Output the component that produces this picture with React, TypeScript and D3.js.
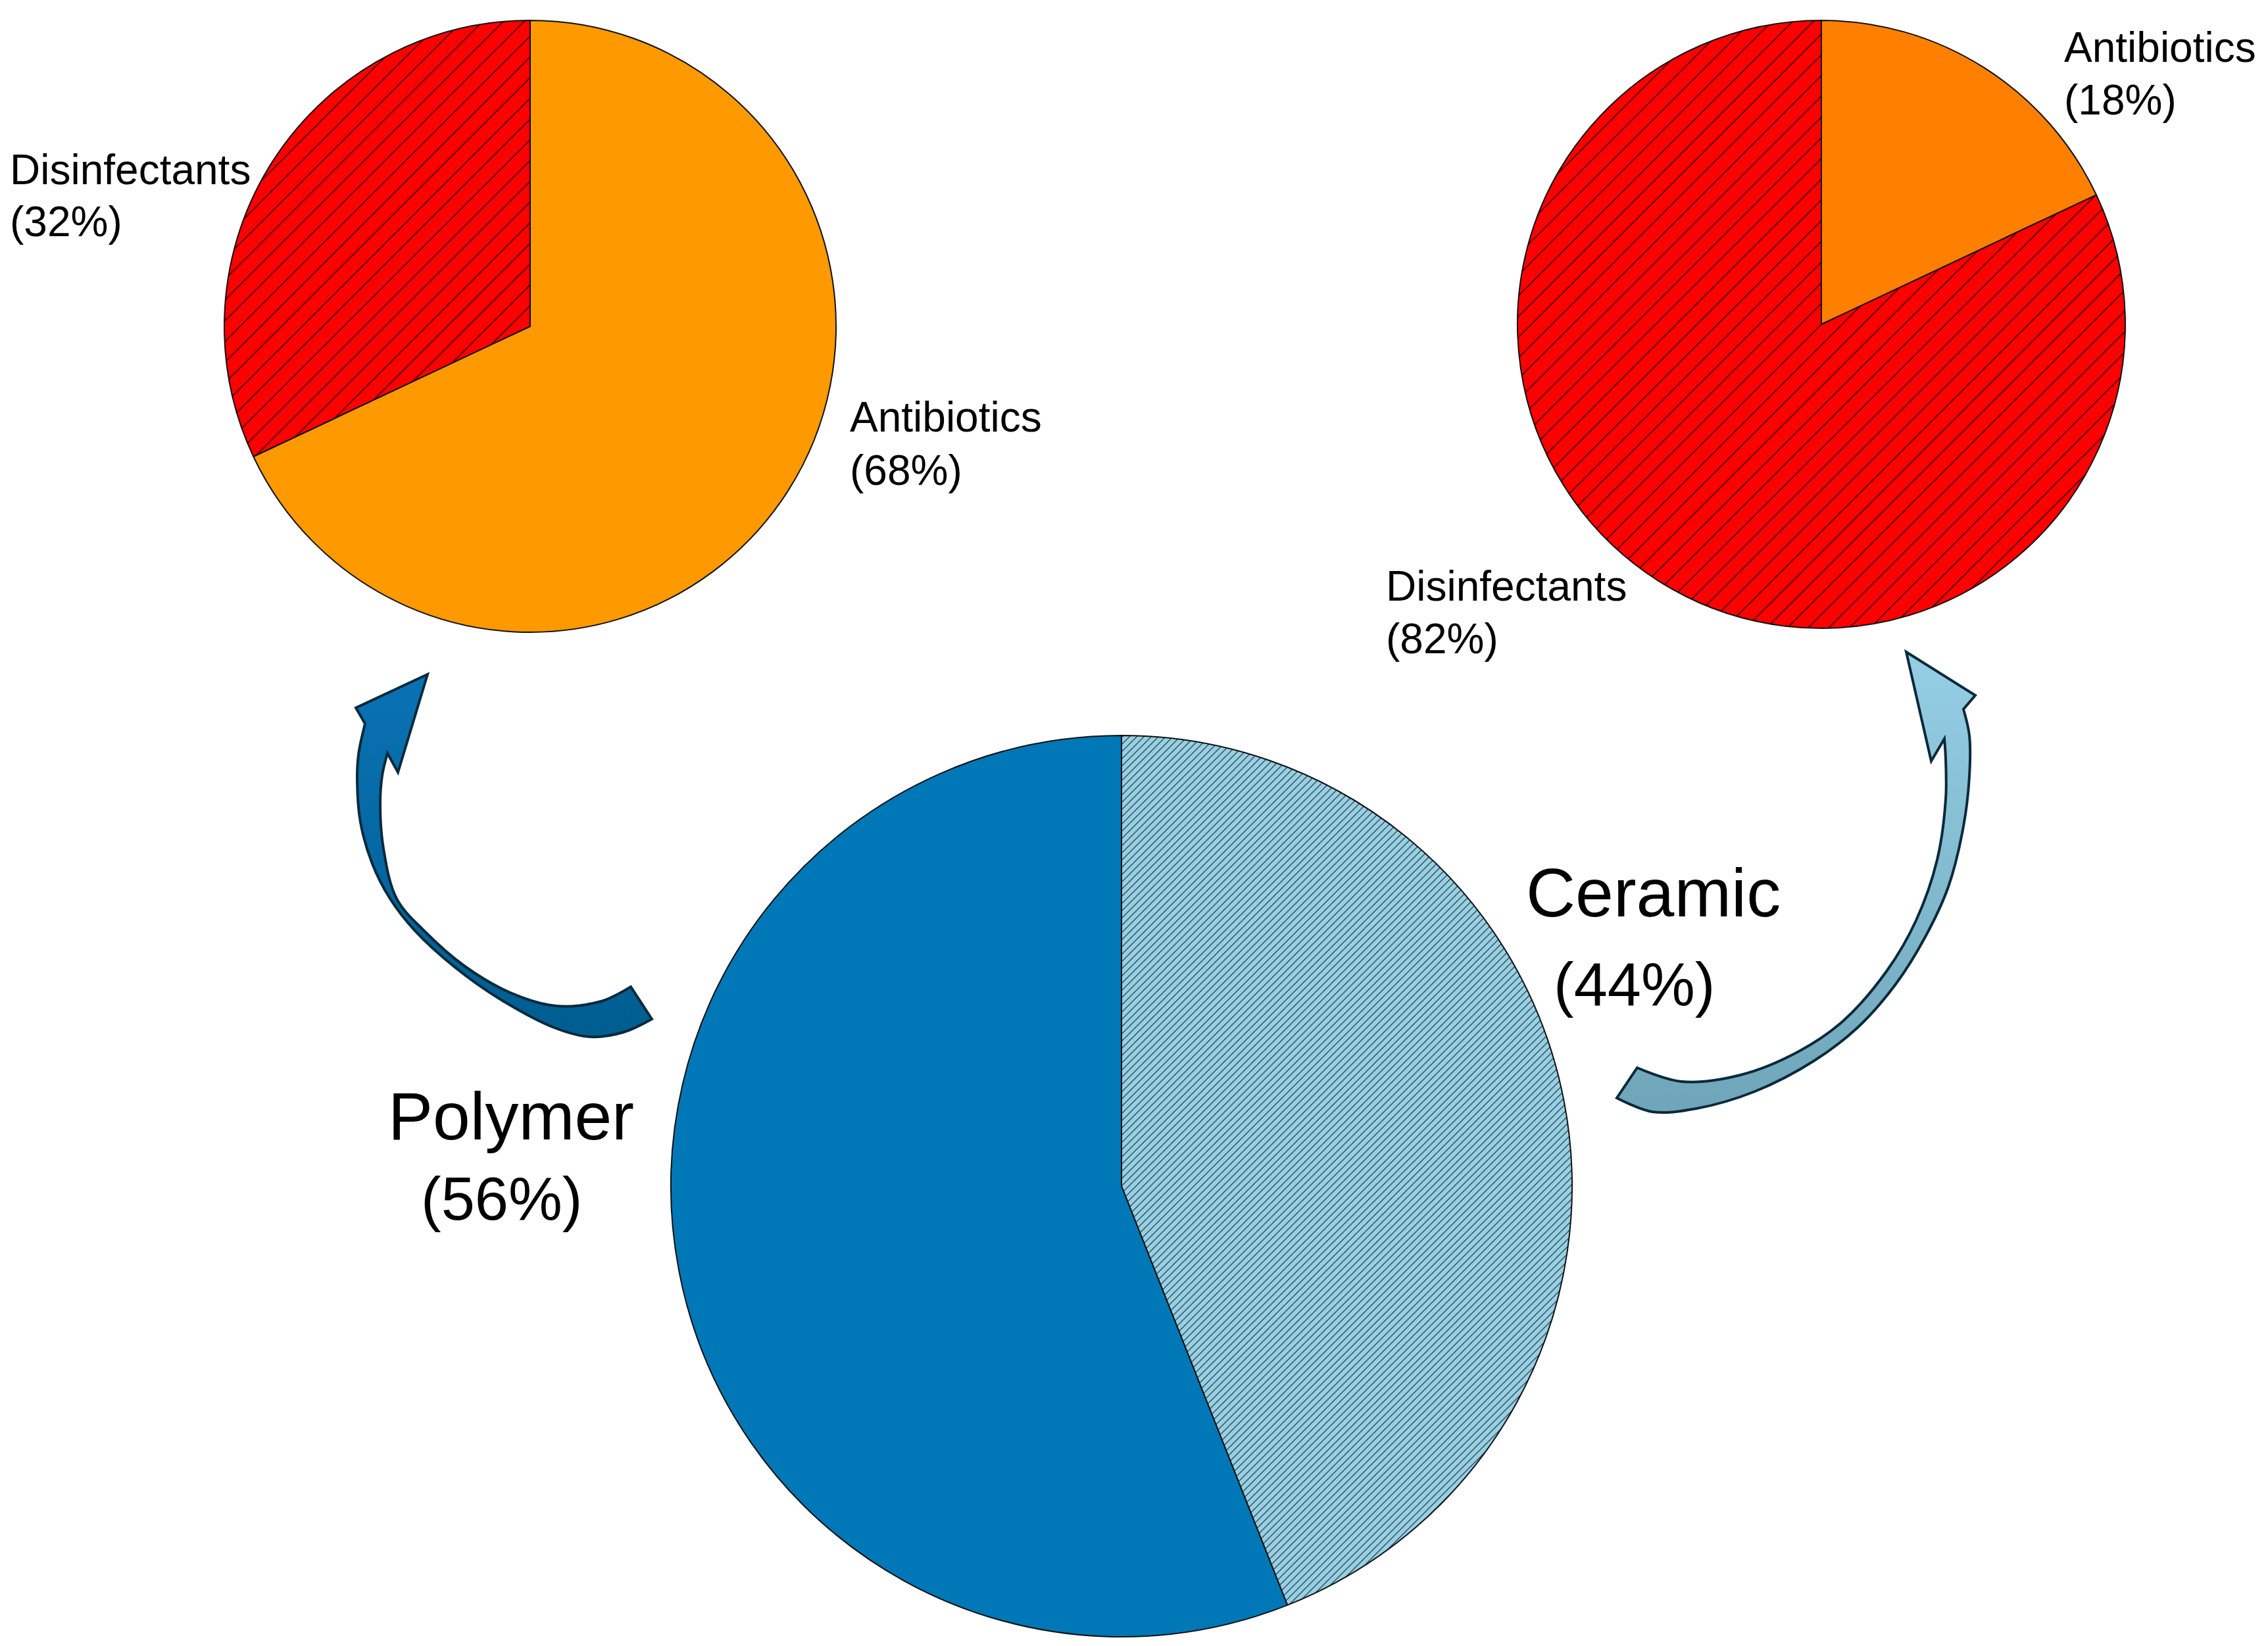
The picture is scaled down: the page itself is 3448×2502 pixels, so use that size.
import React from 'react';
import * as d3 from 'd3';

// data
const materialLabels = ['Ceramic', 'Polymer'];
const materialShares = [44, 56];
const polymerAgents = ['Antibiotics', 'Disinfectants'];
const polymerShares = [68, 32];
const ceramicAgents = ['Antibiotics', 'Disinfectants'];
const ceramicShares = [18, 82];

const W = 3448;
const H = 2502;
const FONT = '"Liberation Sans", Arial, Helvetica, sans-serif';

type Pt = [number, number];

interface PieSpec {
    key: string;
    cx: number;
    cy: number;
    r: number;
    labels: string[];
    values: number[];
    fills: string[];
    labelPos: { x: number; y: number; x2: number; y2: number; size: number; size2: number }[];
}

const pies: PieSpec[] = [
    {
        key: 'material', cx: 1705, cy: 1803, r: 685,
        labels: materialLabels, values: materialShares,
        fills: ['url(#hatchBlue)', '#0077b6'],
        labelPos: [
            {x: 2320, y: 1393, x2: 2362, y2: 1528, size: 104, size2: 92},
            {x: 590, y: 1732, x2: 640, y2: 1854, size: 102, size2: 92},
        ],
    },
    {
        key: 'polymer', cx: 806, cy: 496, r: 465,
        labels: polymerAgents, values: polymerShares,
        fills: ['#ff9900', 'url(#hatchRed)'],
        labelPos: [
            {x: 1292, y: 656, x2: 1292, y2: 737, size: 64, size2: 64},
            {x: 15, y: 280, x2: 15, y2: 359, size: 64, size2: 64},
        ],
    },
    {
        key: 'ceramic', cx: 2769, cy: 493, r: 462,
        labels: ceramicAgents, values: ceramicShares,
        fills: ['#ff8000', 'url(#hatchRed)'],
        labelPos: [
            {x: 3138, y: 94, x2: 3138, y2: 174, size: 64, size2: 64},
            {x: 2107, y: 913, x2: 2107, y2: 993, size: 64, size2: 64},
        ],
    },
];

// curved arrow outlines (annotation shapes)
const leftArrow = {
    head: [[650, 1025], [541, 1076]] as Pt[],
    outer: [[555, 1100], [545, 1147], [543, 1188], [548, 1250], [566, 1313], [593, 1366], [631, 1415],
        [690, 1469], [759, 1518], [845, 1563], [897, 1576], [948, 1569], [991, 1549]] as Pt[],
    inner: [[959, 1500], [914, 1522], [845, 1529], [776, 1509], [707, 1469], [645, 1415], [603, 1366],
        [583, 1290], [578, 1223], [581, 1179], [589, 1145]] as Pt[],
    barb: [605, 1174] as Pt,
};

const rightArrow = {
    head: [[2898, 991], [3003, 1057]] as Pt[],
    outer: [[2985, 1078], [2994, 1118], [2994, 1180], [2985, 1256], [2962, 1348], [2927, 1424], [2882, 1496],
        [2824, 1562], [2757, 1613], [2668, 1659], [2579, 1685], [2512, 1690], [2458, 1669]] as Pt[],
    inner: [[2489, 1623], [2556, 1644], [2646, 1634], [2735, 1598], [2802, 1552], [2869, 1475], [2913, 1399],
        [2945, 1307], [2958, 1215], [2958, 1154], [2956, 1123]] as Pt[],
    barb: [2936, 1157] as Pt,
};

const curve = d3.line<Pt>().curve(d3.curveCatmullRom.alpha(0.5));

function arrowPath(a: typeof leftArrow): string {
    const p = (q: Pt) => `${q[0]},${q[1]}`;
    const outer = (curve(a.outer) || '').replace(/^M/, 'L');
    const inner = (curve(a.inner) || '').replace(/^M/, 'L');
    return `M${p(a.head[0])}L${p(a.head[1])}${outer}${inner}L${p(a.barb)}Z`;
}

const Pie: React.FC<{ spec: PieSpec }> = ({spec}) => {
    const arcs = d3.pie<number>().sort(null).value(d => d)(spec.values);
    const arc = d3.arc<d3.PieArcDatum<number>>().innerRadius(0).outerRadius(spec.r);
    return (
        <g>
            <g transform={`translate(${spec.cx},${spec.cy})`}>
                {arcs.map((a, i) => (
                    <path key={i} d={arc(a) || ''} fill={spec.fills[i]} stroke="#111" strokeWidth={2}
                          strokeLinejoin="round"/>
                ))}
            </g>
            {arcs.map((a, i) => {
                const lp = spec.labelPos[i];
                return (
                    <g key={'l' + i} fill="#000" fontFamily={FONT}>
                        <text x={lp.x} y={lp.y} fontSize={lp.size}>{spec.labels[i]}</text>
                        <text x={lp.x2} y={lp.y2} fontSize={lp.size2}>({a.data}%)</text>
                    </g>
                );
            })}
        </g>
    );
};

const App: React.FC = () => {
    return (
        <svg width={W} height={H} viewBox={`0 0 ${W} ${H}`}
             style={{position: 'absolute', left: 0, top: 0, background: '#fff'}}>
            <defs>
                <pattern id="hatchRed" patternUnits="userSpaceOnUse" width={31.5} height={31.5}>
                    <rect width={31.5} height={31.5} fill="#ff0000"/>
                    <path d="M0,31.5L31.5,0M-2,2L2,-2M29.5,33.5L33.5,29.5" stroke="#5c0000" strokeWidth={2}/>
                </pattern>
                <pattern id="hatchBlue" patternUnits="userSpaceOnUse" width={11} height={11}>
                    <rect width={11} height={11} fill="#96d0e5"/>
                    <path d="M0,11L11,0M-2,2L2,-2M9,13L13,9" stroke="#36484f" strokeWidth={1.4}/>
                </pattern>
                <linearGradient id="gradLeft" x1="0" y1="0" x2="0" y2="1">
                    <stop offset="0" stopColor="#0a72b4"/>
                    <stop offset="1" stopColor="#005d90"/>
                </linearGradient>
                <linearGradient id="gradRight" x1="0" y1="0" x2="0" y2="1">
                    <stop offset="0" stopColor="#95cfe5"/>
                    <stop offset="1" stopColor="#6fa5b9"/>
                </linearGradient>
            </defs>
            <rect width={W} height={H} fill="#fff"/>
            {pies.map(p => <Pie key={p.key} spec={p}/>)}
            <path d={arrowPath(leftArrow)} fill="url(#gradLeft)" stroke="#0a2a3b" strokeWidth={4}
                  strokeLinejoin="miter"/>
            <path d={arrowPath(rightArrow)} fill="url(#gradRight)" stroke="#0a2a3b" strokeWidth={4}
                  strokeLinejoin="miter"/>
        </svg>
    );
};

export default App;
